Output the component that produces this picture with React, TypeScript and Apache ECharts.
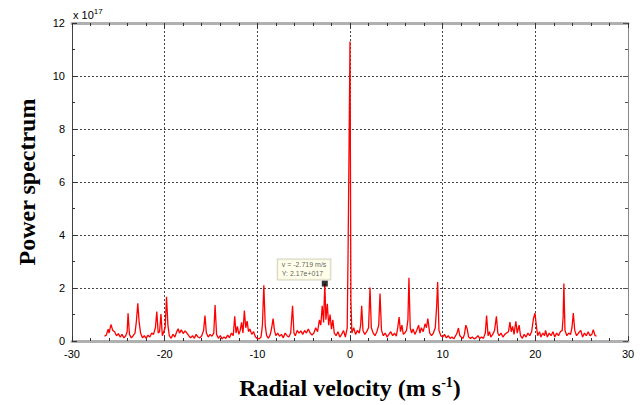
import React, { useEffect, useRef } from "react";
import * as echarts from "echarts";

// Radial velocity (m/s) and power spectrum (units of 1e17)
const velocity: number[] = [
  -26.5, -26.3, -26.1, -26.0, -25.8, -25.6, -25.4, -25.2, -25.0, -24.8, -24.6, -24.4, -24.2, -24.05, -23.95, -23.8, -23.6, -23.4, -23.2, -23.05,
  -22.9, -22.75, -22.6, -22.4, -22.2, -22.0, -21.8, -21.6, -21.4, -21.2, -21.0, -20.85, -20.7, -20.55, -20.4, -20.25, -20.1, -19.95, -19.8, -19.65,
  -19.5, -19.3, -19.1, -18.9, -18.7, -18.55, -18.4, -18.2, -18.0, -17.8, -17.6, -17.4, -17.2, -17.0, -16.8, -16.6, -16.4, -16.2, -16.0, -15.8,
  -15.65, -15.5, -15.3, -15.1, -14.9, -14.7, -14.56, -14.4, -14.2, -14.0, -13.8, -13.6, -13.4, -13.2, -13.0, -12.8, -12.6, -12.44, -12.3, -12.15,
  -12.0, -11.85, -11.7, -11.55, -11.4, -11.25, -11.1, -10.95, -10.8, -10.6, -10.4, -10.2, -10.0, -9.8, -9.6, -9.45, -9.3, -9.15, -9.0, -8.8,
  -8.6, -8.45, -8.3, -8.15, -8.0, -7.8, -7.6, -7.4, -7.2, -7.0, -6.8, -6.6, -6.4, -6.2, -6.05, -5.9, -5.7, -5.5, -5.3, -5.1,
  -4.9, -4.7, -4.5, -4.3, -4.1, -3.9, -3.7, -3.5, -3.3, -3.15, -3.0, -2.85, -2.719, -2.6, -2.45, -2.3, -2.15, -2.0, -1.85, -1.7,
  -1.5, -1.3, -1.1, -0.9, -0.7, -0.5, -0.3, -0.2, -0.1, 0.0, 0.1, 0.2, 0.4, 0.6, 0.8, 1.0, 1.15, 1.26, 1.4, 1.6,
  1.8, 2.0, 2.16, 2.3, 2.5, 2.7, 2.9, 3.1, 3.24, 3.4, 3.6, 3.8, 4.0, 4.2, 4.4, 4.6, 4.8, 5.0, 5.15, 5.3,
  5.45, 5.6, 5.75, 5.9, 6.1, 6.25, 6.36, 6.5, 6.65, 6.8, 7.0, 7.2, 7.4, 7.55, 7.7, 7.9, 8.1, 8.25, 8.4, 8.6,
  8.8, 9.0, 9.2, 9.35, 9.46, 9.6, 9.8, 10.0, 10.2, 10.4, 10.6, 10.8, 11.0, 11.2, 11.4, 11.55, 11.7, 11.85, 12.0, 12.2,
  12.35, 12.5, 12.65, 12.8, 13.0, 13.2, 13.4, 13.6, 13.8, 14.0, 14.2, 14.4, 14.6, 14.74, 14.9, 15.05, 15.2, 15.4, 15.6, 15.8,
  15.95, 16.1, 16.3, 16.5, 16.7, 16.9, 17.1, 17.26, 17.4, 17.55, 17.7, 17.9, 18.05, 18.25, 18.4, 18.6, 18.8, 19.0, 19.2, 19.4,
  19.6, 19.8, 19.96, 20.1, 20.25, 20.45, 20.6, 20.8, 21.0, 21.1, 21.3, 21.5, 21.7, 21.9, 22.1, 22.3, 22.5, 22.7, 22.9, 23.0,
  23.08, 23.2, 23.4, 23.6, 23.8, 23.95, 24.1, 24.25, 24.45, 24.65, 24.9, 25.1, 25.3, 25.5, 25.7, 25.9, 26.1, 26.25, 26.45, 26.6,
];

const power: number[] = [
  0.18, 0.22, 0.45, 0.3, 0.62, 0.4, 0.35, 0.2, 0.28, 0.15, 0.25, 0.12, 0.2, 0.35, 1.05, 0.25, 0.12, 0.2, 0.3, 0.75,
  1.42, 0.7, 0.3, 0.12, 0.2, 0.1, 0.22, 0.15, 0.3, 0.25, 0.5, 1.11, 0.3, 0.35, 1.02, 0.2, 0.35, 0.5, 1.67, 0.6,
  0.2, 0.1, 0.25, 0.15, 0.35, 0.46, 0.3, 0.42, 0.28, 0.38, 0.3, 0.2, 0.12, 0.2, 0.1, 0.25, 0.15, 0.12, 0.2, 0.4,
  0.96, 0.3, 0.15, 0.25, 0.18, 0.3, 1.36, 0.25, 0.1, 0.2, 0.08, 0.15, 0.1, 0.22, 0.12, 0.3, 0.2, 0.93, 0.3, 0.55,
  0.25, 0.4, 0.7, 0.3, 1.15, 0.5, 0.75, 0.35, 0.45, 0.25, 0.35, 0.15, 0.1, 0.08, 0.15, 0.6, 2.1, 0.6, 0.2, 0.1,
  0.25, 0.5, 0.85, 0.4, 0.2, 0.3, 0.18, 0.25, 0.12, 0.3, 0.2, 0.15, 0.3, 1.33, 0.3, 0.2, 0.4, 0.3, 0.38, 0.25,
  0.4, 0.3, 0.45, 0.3, 0.22, 0.3, 0.5, 0.35, 0.8, 0.6, 1.33, 0.7, 2.17, 0.8, 1.4, 0.6, 1.0, 0.45, 0.8, 0.3,
  0.2, 0.35, 0.15, 0.25, 0.4, 0.15, 0.5, 3.6, 7.4, 11.3, 1.5, 0.3, 0.5, 0.25, 0.4, 0.3, 0.6, 1.33, 0.4, 0.25,
  0.35, 0.5, 2.02, 0.5, 0.3, 0.2, 0.35, 0.6, 1.79, 0.4, 0.2, 0.3, 0.15, 0.25, 0.35, 0.2, 0.3, 0.18, 0.5, 0.9,
  0.35, 0.6, 0.25, 0.3, 0.4, 0.8, 2.39, 0.5, 0.3, 0.45, 0.25, 0.4, 0.6, 0.3, 0.5, 0.35, 0.65, 0.5, 0.85, 0.3,
  0.2, 0.3, 0.5, 1.3, 2.23, 0.4, 0.2, 0.15, 0.25, 0.12, 0.2, 0.1, 0.15, 0.08, 0.2, 0.3, 0.49, 0.2, 0.15, 0.1,
  0.25, 0.6, 0.45, 0.15, 0.1, 0.15, 0.08, 0.12, 0.2, 0.1, 0.15, 0.1, 0.3, 0.96, 0.2, 0.35, 0.15, 0.25, 0.4, 0.93,
  0.3, 0.2, 0.3, 0.15, 0.25, 0.3, 0.35, 0.71, 0.35, 0.55, 0.25, 0.74, 0.3, 0.6, 0.2, 0.1, 0.25, 0.15, 0.3, 0.2,
  0.35, 0.85, 1.05, 0.6, 0.2, 0.35, 0.15, 0.3, 0.2, 0.4, 0.15, 0.3, 0.2, 0.35, 0.15, 0.3, 0.2, 0.35, 0.4, 0.9,
  2.17, 0.4, 0.2, 0.3, 0.25, 0.5, 1.05, 0.4, 0.2, 0.3, 0.4, 0.15, 0.3, 0.2, 0.35, 0.2, 0.25, 0.43, 0.2, 0.18,
];

// Data tip
const tipPoint: [number, number] = [-2.719, 2.17];
const tipLines: string[] = ["v = -2.719 m/s", "Y: 2.17e+017"];

const App: React.FC = () => {
  const ref = useRef<HTMLDivElement>(null);

  useEffect(() => {
    if (!ref.current) return;
    const chart = echarts.init(ref.current, undefined, { renderer: "svg" });
    const data = velocity.map((v, i) => [v, power[i]]);
    const tickFont = { fontFamily: "Liberation Sans, Arial, sans-serif", fontSize: 11, color: "#000" };
    const grid = { left: 72, right: 12, top: 23, bottom: 58 };

    chart.setOption({
      animation: false,
      backgroundColor: "#fff",
      grid,
      xAxis: [
        {
          type: "value",
          min: -30,
          max: 30,
          interval: 10,
          position: "bottom",
          axisLine: { show: true, onZero: false, lineStyle: { color: "#b0b0b0", width: 3 } },
          axisTick: { show: true, inside: true, length: 5, lineStyle: { color: "#333", width: 1 } },
          minorTick: { show: true, splitNumber: 5, length: 3, lineStyle: { color: "#333" } },
          axisLabel: { ...tickFont, margin: 7 },
          splitLine: { show: true, lineStyle: { color: "#444", type: [2, 2], width: 1 } },
          name: "Radial velocity (m s{sup|-1})",
          nameLocation: "middle",
          nameGap: 34,
          nameTextStyle: {
            fontFamily: "Liberation Serif, Times New Roman, serif",
            fontWeight: "bold",
            fontSize: 24,
            color: "#000",
            rich: {
              sup: {
                fontFamily: "Liberation Serif, Times New Roman, serif",
                fontWeight: "bold",
                fontSize: 14,
                color: "#000",
                verticalAlign: "top",
                padding: [0, 0, 12, 0],
              },
            },
          },
        },
        {
          type: "value",
          min: -30,
          max: 30,
          interval: 10,
          position: "top",
          axisLine: { show: true, onZero: false, lineStyle: { color: "#b0b0b0", width: 3 } },
          axisTick: { show: true, inside: true, length: 5, lineStyle: { color: "#333", width: 1 } },
          minorTick: { show: true, splitNumber: 5, length: 3, lineStyle: { color: "#333" } },
          axisLabel: { show: false },
          splitLine: { show: false },
        },
      ],
      yAxis: [
        {
          type: "value",
          min: 0,
          max: 12,
          interval: 2,
          position: "left",
          axisLine: { show: true, onZero: false, lineStyle: { color: "#444", width: 1 } },
          axisTick: { show: true, inside: true, length: 5, lineStyle: { color: "#333" } },
          minorTick: { show: true, splitNumber: 2, length: 3, lineStyle: { color: "#333" } },
          axisLabel: { ...tickFont, margin: 7 },
          splitLine: { show: true, lineStyle: { color: "#444", type: [2, 2], width: 1 } },
          name: "Power spectrum",
          nameLocation: "middle",
          nameGap: 33,
          nameTextStyle: {
            fontFamily: "Liberation Serif, Times New Roman, serif",
            fontWeight: "bold",
            fontSize: 24,
            color: "#000",
          },
        },
        {
          type: "value",
          min: 0,
          max: 12,
          interval: 2,
          position: "right",
          axisLine: { show: true, onZero: false, lineStyle: { color: "#888", width: 1 } },
          axisTick: { show: true, inside: true, length: 5, lineStyle: { color: "#555" } },
          minorTick: { show: true, splitNumber: 2, length: 3, lineStyle: { color: "#555" } },
          axisLabel: { show: false },
          splitLine: { show: false },
        },
      ],
      graphic: [
        {
          type: "text",
          left: 73,
          top: 7,
          style: {
            text: "x 10{sup|17}",
            fontFamily: "Liberation Sans, Arial, sans-serif",
            fontSize: 11,
            fill: "#000",
            rich: {
              sup: {
                fontFamily: "Liberation Sans, Arial, sans-serif",
                fontSize: 8,
                fill: "#000",
                verticalAlign: "top",
                padding: [0, 0, 8, 0],
              },
            },
          },
        },
      ],
      series: [
        {
          type: "line",
          data,
          xAxisIndex: 0,
          yAxisIndex: 0,
          showSymbol: false,
          symbol: "none",
          lineStyle: { color: "#ff0000", width: 1.3 },
          z: 3,
        },
        {
          type: "scatter",
          data: [tipPoint],
          xAxisIndex: 0,
          yAxisIndex: 0,
          symbol: "rect",
          symbolSize: 6,
          itemStyle: { color: "#000" },
          z: 5,
          label: {
            show: true,
            position: [-44, -21],
            formatter: tipLines.join("\n"),
            fontFamily: "Liberation Sans, Arial, sans-serif",
            fontSize: 7,
            lineHeight: 9,
            color: "#333",
            backgroundColor: "#ffffe6",
            borderColor: "#c8c8b0",
            borderWidth: 1,
            padding: [1, 4, 1, 4],
            align: "left",
            verticalAlign: "top",
          },
        },
      ],
    });

    return () => chart.dispose();
  }, []);

  return <div ref={ref} style={{ position: "absolute", left: 0, top: 0, width: 640, height: 405 }} />;
};

export default App;
